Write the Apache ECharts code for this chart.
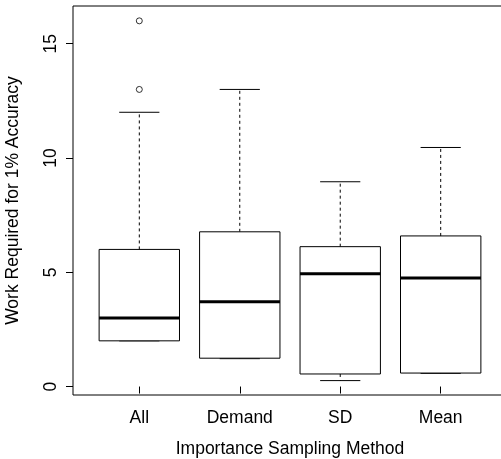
<!DOCTYPE html>
<html>
<head>
<meta charset="utf-8">
<script src="https://cdn.jsdelivr.net/npm/echarts@6/dist/echarts.min.js"></script>
<style>html,body{margin:0;padding:0;background:#fff}#c{width:501px;height:459px}</style>
</head>
<body>
<div id="c"></div>
<script>
var categories = ['All', 'Demand', 'SD', 'Mean'];
var lowerWhisker = [2, 1.22, 0.26, 0.58];
var q1 = [2, 1.24, 0.55, 0.59];
var median = [3, 3.71, 4.94, 4.75];
var q3 = [6, 6.77, 6.12, 6.59];
var upperWhisker = [12, 13, 8.96, 10.46];
var outlierCategory = ['All', 'All'];
var outlierValue = [16, 13];
var yTicks = [0, 5, 10, 15];
var xTitle = 'Importance Sampling Method';
var yTitle = 'Work Required for 1% Accuracy';

var boxData = categories.map(function (c, i) {
  return [i + 1, lowerWhisker[i], q1[i], median[i], q3[i], upperWhisker[i]];
});
var outlierData = outlierCategory.map(function (c, i) {
  return [categories.indexOf(c) + 1, outlierValue[i]];
});
var xPositions = categories.map(function (c, i) { return i + 1; });

var FONT = 'Liberation Sans, Arial, sans-serif';
var FS = 17.5;
var chart = echarts.init(document.getElementById('c'), null, {renderer: 'canvas'});
chart.setOption({
  animation: false,
  backgroundColor: '#fff',
  grid: {left: 73, top: 6, right: -6, bottom: 64, show: true, borderColor: '#000', borderWidth: 1,
    backgroundColor: 'transparent', containLabel: false, outerBoundsMode: 'none'},
  xAxis: {
    type: 'value', min: 0.34, max: 4.66,
    name: xTitle, nameLocation: 'middle', nameGap: 45,
    nameTextStyle: {fontFamily: FONT, fontSize: FS, color: '#000'},
    axisLine: {show: false},
    splitLine: {show: false},
    axisTick: {show: true, length: 7, lineStyle: {color: '#000'}, customValues: xPositions},
    axisLabel: {customValues: xPositions, margin: 14, fontFamily: FONT, fontSize: FS, color: '#000',
      formatter: function (v) { return categories[Math.round(v) - 1] || ''; }}
  },
  yAxis: {
    type: 'value', min: -0.37, max: 16.65,
    name: yTitle, nameLocation: 'middle', nameGap: 51,
    nameTextStyle: {fontFamily: FONT, fontSize: FS, color: '#000'},
    axisLine: {show: false},
    splitLine: {show: false},
    axisTick: {show: true, length: 7, lineStyle: {color: '#000'}, customValues: yTicks},
    axisLabel: {customValues: yTicks, rotate: 90, margin: 13, fontFamily: FONT, fontSize: FS, color: '#000'}
  },
  series: [{
    type: 'custom',
    data: boxData,
    encode: {x: 0, y: [1, 2, 3, 4, 5]},
    renderItem: function (params, api) {
      var x = api.value(0);
      var lw = api.value(1), lq = api.value(2), md = api.value(3), uq = api.value(4), uw = api.value(5);
      function p(xx, yy) { return api.coord([xx, yy]); }
      var hb = 0.4, hc = 0.2;
      var dash = {stroke: '#000', lineWidth: 1, lineDash: [3, 3], fill: null};
      var solid = {stroke: '#000', lineWidth: 1, fill: null};
      var a = p(x - hb, uq), b = p(x + hb, lq);
      return {
        type: 'group',
        children: [
          {type: 'line', shape: {x1: p(x, uq)[0], y1: p(x, uq)[1], x2: p(x, uw)[0], y2: p(x, uw)[1]}, style: dash},
          {type: 'line', shape: {x1: p(x, lq)[0], y1: p(x, lq)[1], x2: p(x, lw)[0], y2: p(x, lw)[1]}, style: dash},
          {type: 'line', shape: {x1: p(x - hc, uw)[0], y1: p(x, uw)[1], x2: p(x + hc, uw)[0], y2: p(x, uw)[1]}, style: solid},
          {type: 'line', shape: {x1: p(x - hc, lw)[0], y1: p(x, lw)[1], x2: p(x + hc, lw)[0], y2: p(x, lw)[1]}, style: solid},
          {type: 'rect', shape: {x: a[0], y: a[1], width: b[0] - a[0], height: b[1] - a[1]}, style: {stroke: '#000', lineWidth: 1, fill: '#fff'}},
          {type: 'line', shape: {x1: p(x - hb, md)[0], y1: p(x, md)[1], x2: p(x + hb, md)[0], y2: p(x, md)[1]}, style: {stroke: '#000', lineWidth: 3}}
        ]
      };
    }
  }, {
    type: 'scatter',
    data: outlierData,
    symbol: 'circle',
    symbolSize: 6,
    itemStyle: {color: '#fff', borderColor: '#000', borderWidth: 1}
  }]
});
</script>
</body>
</html>
